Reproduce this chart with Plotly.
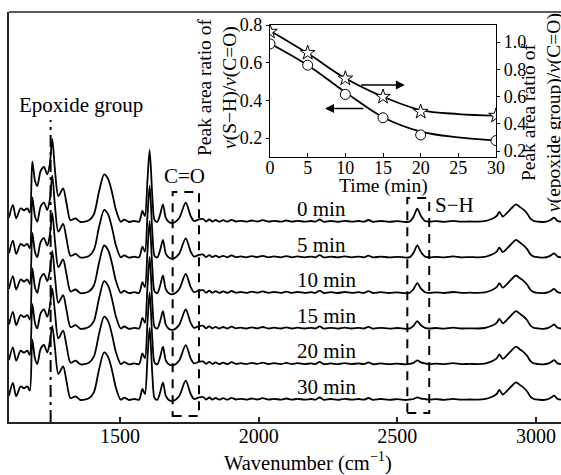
import plotly.graph_objects as go

FONT = 'Liberation Serif, Times New Roman, DejaVu Serif, serif'

# ---- FTIR spectra ----
time_labels = ['0 min', '5 min', '10 min', '15 min', '20 min', '30 min']

wavenumber = [
    1100, 1114, 1126, 1142, 1154, 1166, 1175, 1184, 1194, 1202,
    1214, 1226, 1238, 1247, 1256, 1266, 1278, 1295, 1307, 1322,
    1340, 1358, 1388, 1406, 1425, 1443, 1458, 1473, 1485, 1503,
    1515, 1533, 1551, 1569, 1581, 1590, 1599, 1607, 1617, 1625,
    1635, 1645, 1655, 1665, 1675, 1691, 1713, 1737, 1755, 1767,
    1785, 1800, 1810, 1822, 1833, 1845, 1858, 1872, 1888, 1902,
    1918, 1935, 1955, 1975, 1995, 2015, 2035, 2055, 2080, 2100,
    2120, 2140, 2165, 2190, 2205, 2220, 2235, 2260, 2285, 2310,
    2335, 2360, 2380, 2396, 2412, 2440, 2470, 2500, 2530, 2545,
    2558, 2572, 2585, 2600, 2615, 2640, 2670, 2700, 2730, 2760,
    2790, 2815, 2840, 2858, 2868, 2880, 2895, 2912, 2928, 2942,
    2955, 2968, 2980, 2992, 3010, 3027, 3045, 3055, 3065, 3078,
    3090,
]

# absorbance of the 0 min spectrum above its own baseline
absorbance_0min = [
    4.3, 17, 3.7, 13.7, 11.7, 13.7, 9.3, 60.3, 41, 36,
    51, 55, 47.7, 57.7, 83, 51, 26, 33.7, 19.3, 1.7,
    3.7, 0, 1.7, 7.7, 31, 47.7, 42.7, 27.7, 12.7, 0.3,
    2.3, 0, 1, 0.3, 11, 6, 41, 72, 24.3, 1.7,
    0.3, 7.7, 17.7, 4.3, 0.3, -1, 3.7, 19.3, 6, 1,
    2.7, 3.0, 0.5, 2.5, 0.5, 2.0, 0.3, 1.8, 0.3, 2.2,
    0.5, 1.2, 0.3, 1.5, 0.5, 1.8, 0.3, 1.2, 0.3, 1.5,
    0.3, 1.2, 0.3, 1.0, 0.3, 2.5, 0.2, 1.0, 0.2, 1.2,
    0.3, 1.0, 0.3, 2.0, 0.2, 1.0, 0.2, 0.8, 0.0, 0.5,
    5.0, 13.3, 6.0, 1.0, 0.3, 0.8, 0.2, 1.2, 0.3, 0.5,
    0.3, 0.8, 3.0, 6.0, 10.0, 5.5, 9.0, 14.0, 17.7, 15.0,
    12.3, 8.5, 3.3, 1.0, 0.3, 0.0, 1.0, 2.5, 4.3, 1.0,
    0.3,
]

# peaks that change with curing time
epoxide_peak = [83, 82, 80, 78, 76, 74]          # at 1256 cm-1
sh_band = [                                      # at 2558, 2572, 2585 cm-1
    [5.0, 13.3, 6.0],
    [4.5, 12.3, 5.5],
    [4.0, 10.0, 4.5],
    [3.0, 7.7, 3.5],
    [1.5, 4.0, 2.0],
    [1.0, 2.7, 1.5],
]

# ---- inset: peak area ratios ----
time_min = [0, 5, 10, 15, 20, 30]
sh_ratio = [0.700, 0.587, 0.432, 0.308, 0.217, 0.187]
epoxide_ratio = [1.076, 0.921, 0.733, 0.599, 0.489, 0.460]

fit_time = [0, 5, 10, 15, 20, 25, 30]
sh_fit = [0.702, 0.587, 0.444, 0.311, 0.235, 0.204, 0.187]
epoxide_fit = [1.083, 0.917, 0.734, 0.599, 0.501, 0.472, 0.460]


# pixel positions -> paper fractions (plot area: x 9..561, y 12..422)
def px_x(p):
    return (p - 9) / 552


def px_y(p):
    return (422 - p) / 410


fig = go.Figure()

top_offset = 200
step = 35.6
i_epo = wavenumber.index(1256)
i_sh = wavenumber.index(2558)

txt = dict(family=FONT, size=21, color='black')
tick_font = dict(family=FONT, size=20, color='black')
small = dict(family=FONT, size=18, color='black')
inset_title = dict(family=FONT, size=19.5, color='black')

for i, label in enumerate(time_labels):
    a = list(absorbance_0min)
    a[i_epo] = epoxide_peak[i]
    a[i_sh:i_sh + 3] = sh_band[i]
    off = top_offset - step * i
    fig.add_trace(go.Scatter(
        x=wavenumber, y=[v + off for v in a], mode='lines',
        line=dict(color='black', width=1.8, shape='spline', smoothing=0.8),
        showlegend=False, hoverinfo='skip'))
    fig.add_annotation(x=2131, y=off + 13, text=label, showarrow=False,
                       xanchor='left', yanchor='middle', font=txt)

# inset curves
fig.add_trace(go.Scatter(x=fit_time, y=sh_fit, mode='lines',
                         line=dict(color='black', width=1.8, shape='spline'),
                         xaxis='x2', yaxis='y2', showlegend=False))
fig.add_trace(go.Scatter(x=fit_time, y=epoxide_fit, mode='lines',
                         line=dict(color='black', width=1.8, shape='spline'),
                         xaxis='x2', yaxis='y3', showlegend=False))
fig.add_trace(go.Scatter(x=time_min, y=sh_ratio, mode='markers',
                         marker=dict(symbol='circle', size=10, color='white',
                                     line=dict(color='black', width=1)),
                         xaxis='x2', yaxis='y2', showlegend=False))
fig.add_trace(go.Scatter(x=time_min, y=epoxide_ratio, mode='markers',
                         marker=dict(symbol='star', size=11, color='white',
                                     line=dict(color='black', width=1)),
                         xaxis='x2', yaxis='y3', showlegend=False))

# dashed boxes and epoxide marker line
box_dash = '9px,7px'
fig.add_shape(type='rect', x0=1690, x1=1785, y0=6, y1=230,
              line=dict(color='black', width=2, dash=box_dash))
fig.add_shape(type='rect', x0=2536, x1=2615, y0=9, y1=224,
              line=dict(color='black', width=2, dash=box_dash))
fig.add_shape(type='line', x0=1250, x1=1250, y0=0, y1=302,
              line=dict(color='black', width=2, dash='12px,5px,3px,5px'))
# top frame line
fig.add_shape(type='line', xref='paper', yref='paper', x0=0, x1=1, y0=1, y1=1,
              line=dict(color='#222', width=1.5))

fig.add_annotation(x=px_x(81), y=px_y(105), xref='paper', yref='paper',
                   xanchor='center', yanchor='middle',
                   text='Epoxide group', showarrow=False, font=txt)
fig.add_annotation(x=1731, y=246, text='C=O', showarrow=False, font=txt,
                   xanchor='center', yanchor='middle')
fig.add_annotation(x=2705, y=217, text='S−H', showarrow=False, font=txt,
                   xanchor='center', yanchor='middle')
fig.add_annotation(x=px_x(308), y=px_y(461), xref='paper', yref='paper',
                   xanchor='center', yanchor='middle',
                   text='Wavenumber (cm<sup>−1</sup>)', showarrow=False,
                   font=dict(family=FONT, size=20.5, color='black'))

fig.add_annotation(x=15, y=px_y(186), xref='x2', yref='paper',
                   xanchor='center', yanchor='middle',
                   text='Time (min)', showarrow=False, font=inset_title)
fig.add_annotation(x=px_x(217), y=px_y(88), xref='paper', yref='paper',
                   xanchor='center', yanchor='middle', textangle=-90,
                   text='Peak area ratio of<br><i>ν</i>(S−H)/<i>ν</i>(C=O)',
                   showarrow=False, font=inset_title)
fig.add_annotation(x=px_x(541), y=px_y(113), xref='paper', yref='paper',
                   xanchor='center', yanchor='middle', textangle=-90,
                   text='Peak area ratio of<br><i>ν</i>(epoxide group)/<i>ν</i>(C=O)',
                   showarrow=False, font=inset_title)

# arrows
fig.add_annotation(x=17.9, y=0.685, ax=11.9, ay=0.685, xref='x2', yref='y3',
                   axref='x2', ayref='y3', showarrow=True, text='',
                   arrowhead=2, arrowsize=1.2, arrowwidth=1.5, arrowcolor='black')
fig.add_annotation(x=7.3, y=0.357, ax=12.6, ay=0.357, xref='x2', yref='y2',
                   axref='x2', ayref='y2', showarrow=True, text='',
                   arrowhead=2, arrowsize=1.2, arrowwidth=1.5, arrowcolor='black')

fig.update_layout(
    template='none',
    width=561, height=475,
    margin=dict(l=9, r=0, t=12, b=53, autoexpand=False),
    paper_bgcolor='white', plot_bgcolor='white',
    font=dict(family=FONT, color='black'),
    xaxis=dict(range=[1100, 3090], showline=True, linecolor='#222', linewidth=1.5,
               ticks='inside', ticklen=5, tickcolor='#222', tickwidth=1.5,
               tickvals=[1500, 2000, 2500, 3000], showgrid=False, zeroline=False,
               automargin=False, ticklabelstandoff=-5, tickfont=tick_font),
    yaxis=dict(range=[0, 410], showline=True, linecolor='#222', linewidth=1.5,
               showticklabels=False, ticks='', showgrid=False, zeroline=False,
               automargin=False),
    xaxis2=dict(domain=[px_x(270), px_x(496)], anchor='y2', range=[0, 30],
                showline=True, mirror=True, linecolor='black', linewidth=1.2,
                ticks='inside', ticklen=4, tickcolor='black',
                tickvals=[0, 5, 10, 15, 20, 25, 30],
                showgrid=False, zeroline=False, automargin=False,
                ticklabelstandoff=-6, tickfont=small),
    yaxis2=dict(domain=[px_y(157), px_y(25)], anchor='x2', range=[0.1, 0.8],
                showline=True, linecolor='black', linewidth=1.2,
                ticks='outside', ticklen=3, tickcolor='black',
                tickvals=[0.2, 0.4, 0.6, 0.8],
                tickformat='.1f', showgrid=False, zeroline=False,
                automargin=False, tickfont=small),
    yaxis3=dict(overlaying='y2', side='right', anchor='x2', range=[0.157, 1.125],
                showline=True, linecolor='black', linewidth=1.2,
                ticks='outside', ticklen=3, tickcolor='black',
                tickvals=[0.2, 0.4, 0.6, 0.8, 1.0],
                tickformat='.1f', showgrid=False, zeroline=False,
                automargin=False, tickfont=small),
)

# page has a default 8px body margin; drop it so the figure sits at 0,0
fig.write_html('out.html', config={'displayModeBar': False},
               post_script="document.body.style.margin='0px';")
